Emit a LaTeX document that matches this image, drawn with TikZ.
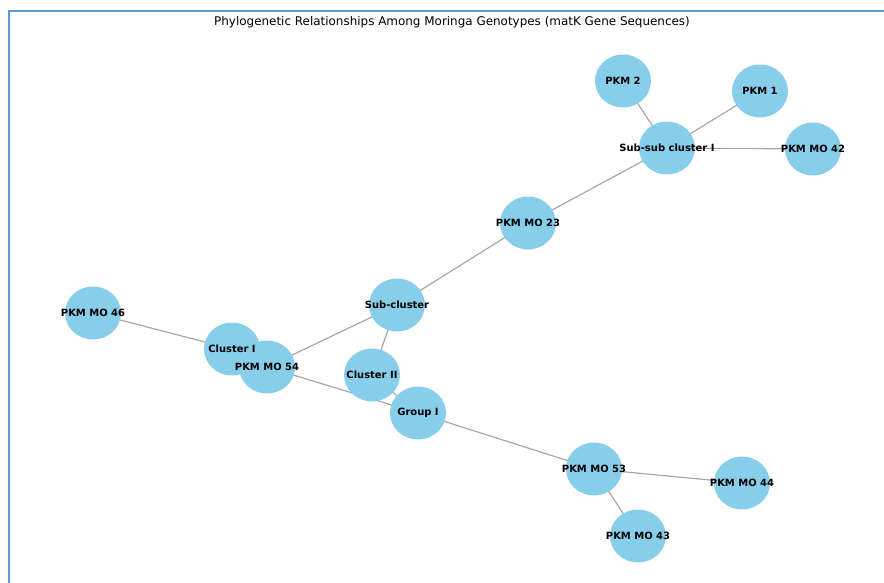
\documentclass[tikz,border=0pt]{standalone}
\usepackage{fontspec}
\setmainfont{DejaVu Sans}
\usetikzlibrary{positioning}
\pgfdeclarelayer{background}
\pgfdeclarelayer{middle}
\pgfsetlayers{background,middle,main}
\definecolor{skyblue}{HTML}{87CEEB}
\definecolor{framecol}{HTML}{5B9BD5}

\begin{document}
\begin{tikzpicture}[x=0.03cm,y=-0.03cm,
  main node/.style={font=\bfseries\fontsize{8.5}{10}\selectfont, inner sep=0pt},
  link/.style={draw=gray!70, line width=1pt}]

  \useasboundingbox (0,0) rectangle (884,583);
  \draw[framecol, line width=1.7pt] (9,583) -- (9,11) -- (884,11);
  \node (title) at (452,22.5) {\fontsize{10.2}{12}\selectfont Phylogenetic Relationships Among Moringa Genotypes (matK Gene Sequences)};

  % genotypes and clusters
  \node[main node] (p2)   at (623,81)  {PKM 2};
  \node[main node] (p1)   at (760,91)  {PKM 1};
  \node[main node] (ssc)  at (667,148) {Sub-sub cluster I};
  \node[main node] (mo42) at (813,149) {PKM MO 42};
  \node[main node] (mo23) at (528,223) {PKM MO 23};
  \node[main node] (sc)   at (397,305) {Sub-cluster};
  \node[main node] (mo46) at (93,313)  {PKM MO 46};
  \node[main node] (c1)   at (232,349) {Cluster I};
  \node[main node] (mo54) at (267,367) {PKM MO 54};
  \node[main node] (c2)   at (372,375) {Cluster II};
  \node[main node] (g1)   at (418,413) {Group I};
  \node[main node] (mo53) at (594,469) {PKM MO 53};
  \node[main node] (mo44) at (742,483) {PKM MO 44};
  \node[main node] (mo43) at (638,536) {PKM MO 43};

  \begin{pgfonlayer}{middle}
    \foreach \n in {p2,p1,ssc,mo42,mo23,sc,mo46,c1,mo54,c2,g1,mo53,mo44,mo43}
      \fill[skyblue] (\n.center) ellipse [x radius=0.84cm, y radius=0.795cm];
  \end{pgfonlayer}

  \begin{pgfonlayer}{background}
    \path[link]
      (ssc.center) edge (p2.center)
                   edge (p1.center)
                   edge (mo42.center)
                   edge (mo23.center)
      (mo23.center) edge (sc.center)
      (sc.center) edge (c2.center)
                  edge (mo54.center)
      (c1.center) edge (mo46.center)
      (mo54.center) edge (g1.center)
      (c2.center) edge (g1.center)
      (g1.center) edge (mo53.center)
      (mo53.center) edge (mo44.center)
                    edge (mo43.center);
  \end{pgfonlayer}

\end{tikzpicture}
\end{document}
